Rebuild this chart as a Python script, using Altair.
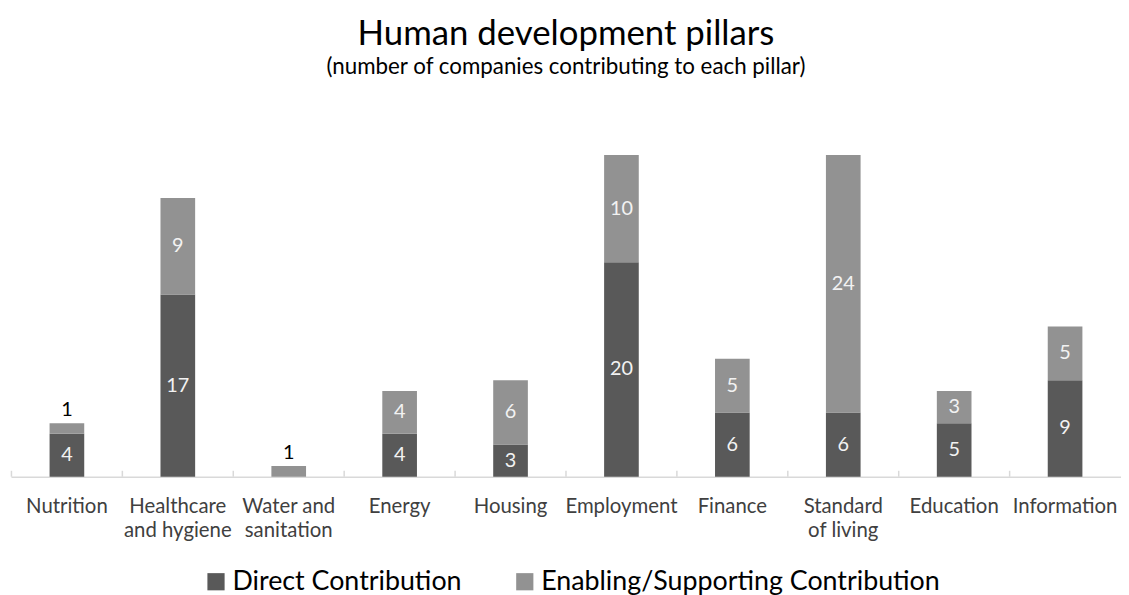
import altair as alt
import pandas as pd

categories = ["Nutrition", "Healthcare\nand hygiene", "Water and\nsanitation", "Energy",
              "Housing", "Employment", "Finance", "Standard\nof living", "Education", "Information"]
direct = [4, 17, 0, 4, 3, 20, 6, 6, 5, 9]
enabling = [1, 9, 1, 4, 6, 10, 5, 24, 3, 5]
series = ["Direct Contribution", "Enabling/Supporting Contribution"]
colors = ["#595959", "#929292"]

rows = []
for c, d, e in zip(categories, direct, enabling):
    rows.append({"category": c, "series": series[0], "value": d, "order": 0})
    rows.append({"category": c, "series": series[1], "value": e, "order": 1})
df = pd.DataFrame(rows)

W, H = 1118, 324
FONT = "Lato"
PI, PO = 0.6875, 0.348

xscale = alt.Scale(paddingInner=PI, paddingOuter=PO)
xaxis = alt.Axis(title=None, labelAngle=0, ticks=False, domainColor="#d9d9d9",
                 domainWidth=1.5, labelFont=FONT, labelFontSize=20.5, labelColor="#404040",
                 labelPadding=20, labelLineHeight=24, bandPosition=0.5, labelLimit=0,
                 labelOverlap=False, labelBound=False,
                 labelExpr="split(datum.value, '\\n')")
x = alt.X("category:N", sort=categories, scale=xscale, axis=xaxis)
yscale = alt.Scale(domain=[0, 30])

base = alt.Chart(df)

bars = base.mark_bar().encode(
    x=x,
    y=alt.Y("value:Q", stack="zero", scale=yscale, axis=None),
    color=alt.Color("series:N", scale=alt.Scale(domain=series, range=colors),
                    legend=alt.Legend(title=None, orient="none", legendX=193, legendY=416,
                                      direction="horizontal", symbolType="square",
                                      symbolSize=300, symbolStrokeWidth=0, symbolOpacity=1,
                                      labelFont=FONT, labelFontSize=27, labelColor="#000",
                                      labelOffset=3, columnPadding=50, labelLimit=0)),
    order=alt.Order("order:Q"),
)

step = W / (len(categories) - PI + 2 * PO)
ticks = base.transform_filter("datum.order == 0").mark_rule(
    color="#d9d9d9", strokeWidth=1.5, xOffset=-PI * step / 2
).encode(
    x=alt.X("category:N", sort=categories, bandPosition=0),
    y=alt.value(H - 6),
    y2=alt.value(H),
)

tbase = base.transform_stack(
    stack="value", as_=["v0", "v1"], groupby=["category"],
    sort=[alt.SortField("order")]
).transform_calculate(mid="(datum.v0 + datum.v1) / 2")

inside = tbase.transform_filter("datum.value >= 2").mark_text(
    color="#f2f2f2", font=FONT, fontSize=20, baseline="middle"
).encode(
    x=alt.X("category:N", sort=categories),
    y=alt.Y("mid:Q", scale=yscale, axis=None),
    text="value:Q",
)

outside = tbase.transform_filter("datum.value == 1").mark_text(
    color="#000000", font=FONT, fontSize=20, baseline="bottom", dy=-3
).encode(
    x=alt.X("category:N", sort=categories),
    y=alt.Y("v1:Q", scale=yscale, axis=None),
    text="value:Q",
)

chart = alt.layer(bars, ticks, inside, outside).properties(
    width=W, height=H,
    autosize="none",
    padding={"left": 3, "top": 146, "right": 0, "bottom": 117},
    title=alt.TitleParams(
        text="Human development pillars",
        subtitle="(number of companies contributing to each pillar)",
        font=FONT, fontSize=35, fontWeight="normal", color="#000000",
        subtitleFont=FONT, subtitleFontSize=22.5, subtitleColor="#000000",
        anchor="middle", offset=77, subtitlePadding=4,
    ),
).configure_view(stroke=None)

chart.save("out.html", embed_options={"renderer": "svg", "actions": False})
